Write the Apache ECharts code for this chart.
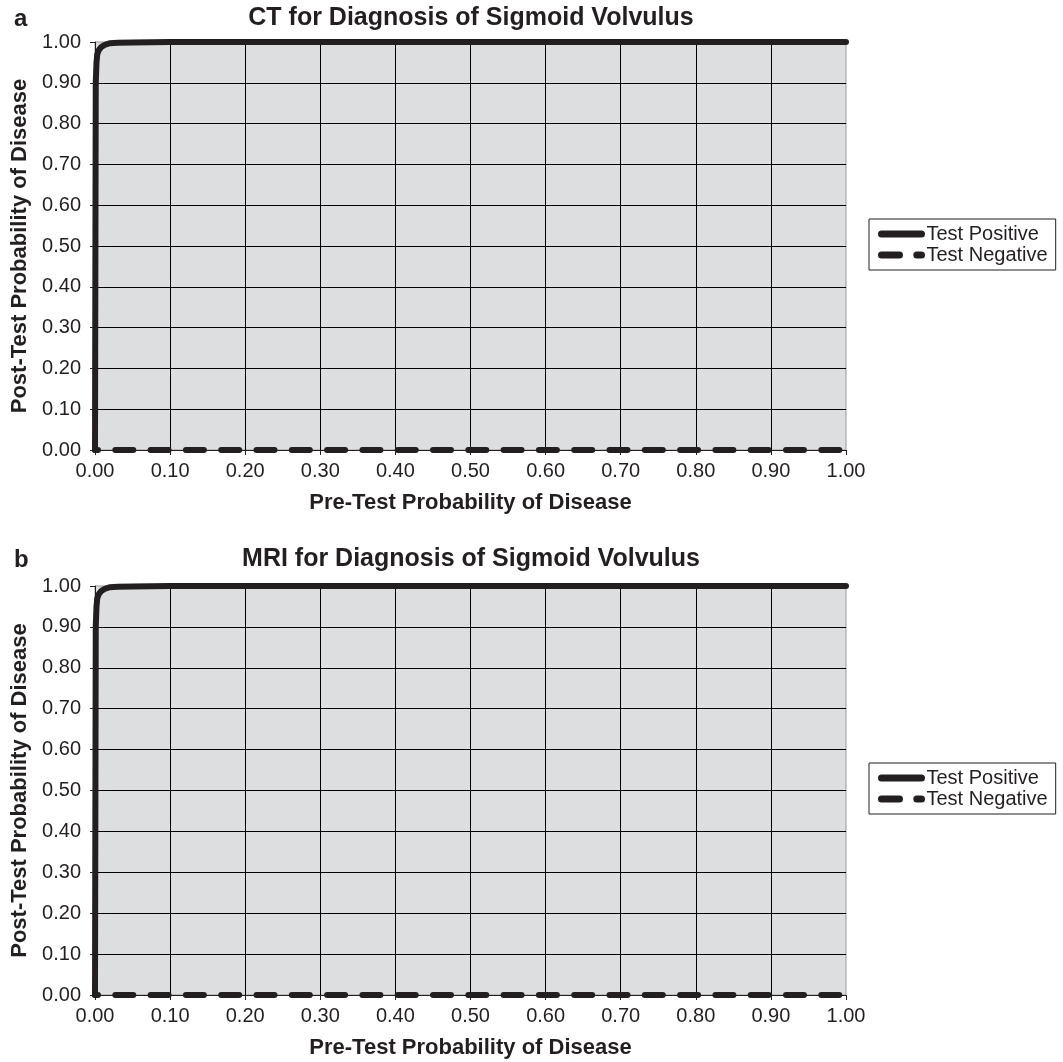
<!DOCTYPE html>
<html>
<head>
<meta charset="utf-8">
<script src="https://cdn.jsdelivr.net/npm/echarts@6/dist/echarts.min.js"></script>
<style>
  html, body { margin: 0; padding: 0; background: #ffffff; }
  #chart { width: 1063px; height: 1062px; }
</style>
</head>
<body>
<div id="chart"></div>
<script>
// Panel headings
const panelLetters = ['a', 'b'];
const panelTitles = ['CT for Diagnosis of Sigmoid Volvulus', 'MRI for Diagnosis of Sigmoid Volvulus'];
const seriesNames = ['Test Positive', 'Test Negative'];
const xAxisTitle = 'Pre-Test Probability of Disease';
const yAxisTitle = 'Post-Test Probability of Disease';

// Shared tick labels for both axes (0.00 .. 1.00 by 0.10)
const tickLabels = ['0.00', '0.10', '0.20', '0.30', '0.40', '0.50', '0.60', '0.70', '0.80', '0.90', '1.00'];

// Pre-test probabilities at which the curves are plotted
const preTestPositive = [0, 0.001, 0.002, 0.003, 0.005, 0.008, 0.012, 0.016, 0.02, 0.03, 0.05,
  0.1, 0.2, 0.3, 0.4, 0.5, 0.6, 0.7, 0.8, 0.9, 1.0];
const preTestNegative = [0, 0.1, 0.2, 0.3, 0.4, 0.5, 0.6, 0.7, 0.8, 0.9, 1.0];

// CT: post-test probability after a positive / negative result
const ctPositive = [0, 0.90, 0.95, 0.97, 0.98, 0.987, 0.992, 0.995, 0.997, 0.998, 0.999,
  1.0, 1.0, 1.0, 1.0, 1.0, 1.0, 1.0, 1.0, 1.0, 1.0];
const ctNegative = [0, 0, 0, 0, 0, 0, 0, 0, 0, 0, 0];

// MRI: post-test probability after a positive / negative result
const mriPositive = [0, 0.90, 0.95, 0.97, 0.98, 0.987, 0.992, 0.995, 0.997, 0.998, 0.999,
  1.0, 1.0, 1.0, 1.0, 1.0, 1.0, 1.0, 1.0, 1.0, 1.0];
const mriNegative = [0, 0, 0, 0, 0, 0, 0, 0, 0, 0, 0];

const INK = '#231f20';
const FONT = '"Liberation Sans", Arial, sans-serif';

function pairs(xs, ys) { return xs.map((x, i) => [x, ys[i]]); }

function valueAxis(gridIndex, isX) {
  return {
    type: 'value',
    gridIndex: gridIndex,
    min: 0, max: 1, interval: 0.1,
    name: isX ? xAxisTitle : yAxisTitle,
    nameLocation: 'middle',
    nameGap: isX ? 42 : 58,
    nameTextStyle: { fontFamily: FONT, fontSize: 22, fontWeight: 'bold', color: INK },
    axisLine: { show: true, onZero: false, lineStyle: { color: INK, width: 1 } },
    axisTick: { show: true, inside: false, length: 5, lineStyle: { color: INK, width: 1 } },
    axisLabel: {
      fontFamily: FONT, fontSize: 20, color: INK,
      margin: isX ? 11 : 14,
      formatter: (v) => tickLabels[Math.round(v * 10)]
    },
    splitLine: { show: true, showMinLine: false, showMaxLine: false, lineStyle: { color: '#000000', width: 1 } }
  };
}

const grids = [
  { left: 95, top: 42, width: 751, height: 408 },
  { left: 95, top: 586, width: 751, height: 409 }
].map(g => Object.assign(g, { show: true, backgroundColor: '#dddee0', borderColor: '#9a9a9a', borderWidth: 1 }));

function positiveSeries(idx, data) {
  return {
    name: seriesNames[0], type: 'line', xAxisIndex: idx, yAxisIndex: idx,
    data: data, symbol: 'none', showSymbol: false, clip: false, z: 4,
    itemStyle: { color: INK },
    lineStyle: { color: INK, width: 6, cap: 'round', join: 'round' }
  };
}
function negativeSeries(idx, data) {
  return {
    name: seriesNames[1], type: 'line', xAxisIndex: idx, yAxisIndex: idx,
    data: data, symbol: 'none', showSymbol: false, clip: false, z: 3,
    itemStyle: { color: INK },
    lineStyle: { color: INK, width: 6, type: [18, 17.3], dashOffset: 15, cap: 'round', join: 'round' }
  };
}

function legendAt(top) {
  return {
    orient: 'vertical', left: 869, top: top,
    data: seriesNames,
    padding: [5, 8, 5, 9], itemGap: 1,
    itemWidth: 40, itemHeight: 14,
    backgroundColor: '#ffffff', borderColor: INK, borderWidth: 1, borderRadius: 0,
    selectedMode: false,
    itemStyle: { color: 'transparent', borderWidth: 0, opacity: 0 },
    lineStyle: { width: 7, dashOffset: 0, cap: 'round' },
    textStyle: { fontFamily: FONT, fontSize: 20, color: INK }
  };
}

function headings() {
  const out = [];
  [7, 548].forEach((top, i) => {
    out.push({ text: panelLetters[i], left: 14, top: top, padding: 0, z: 10,
      textStyle: { fontFamily: FONT, fontSize: 24, fontWeight: 'bold', color: INK } });
    out.push({ text: panelTitles[i], left: 471, textAlign: 'center', top: top - 1, padding: 0, z: 10,
      textStyle: { fontFamily: FONT, fontSize: 25, fontWeight: 'bold', color: INK } });
  });
  return out;
}

const chart = echarts.init(document.getElementById('chart'), null, { renderer: 'canvas' });
chart.setOption({
  animation: false,
  backgroundColor: '#ffffff',
  title: headings(),
  legend: [legendAt(219), legendAt(763)],
  grid: grids,
  xAxis: [valueAxis(0, true), valueAxis(1, true)],
  yAxis: [valueAxis(0, false), valueAxis(1, false)],
  series: [
    positiveSeries(0, pairs(preTestPositive, ctPositive)),
    negativeSeries(0, pairs(preTestNegative, ctNegative)),
    positiveSeries(1, pairs(preTestPositive, mriPositive)),
    negativeSeries(1, pairs(preTestNegative, mriNegative))
  ]
});
</script>
</body>
</html>
